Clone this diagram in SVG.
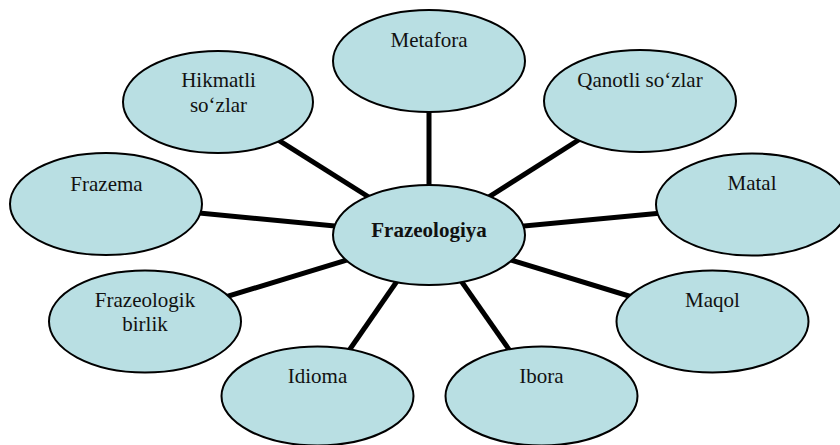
<svg xmlns="http://www.w3.org/2000/svg" width="840" height="445" viewBox="0 0 840 445">
<style>
.n{fill:#b9dfe3;stroke:#000;stroke-width:2}
.t{font-size:21px;fill:#111;text-anchor:middle}
.b{font-weight:bold}
.c line{stroke:#000;stroke-width:5}
</style>
<rect width="840" height="445" fill="#fff"/>
<g id="connectors" class="c">
<line x1="429" y1="235" x2="429" y2="61"/>
<line x1="429" y1="235" x2="640" y2="101"/>
<line x1="429" y1="235" x2="218" y2="102"/>
<line x1="429" y1="235" x2="106" y2="204"/>
<line x1="429" y1="235" x2="752" y2="204.5"/>
<line x1="429" y1="235" x2="145" y2="321.5"/>
<line x1="429" y1="235" x2="712.5" y2="321.5"/>
<line x1="429" y1="235" x2="317.5" y2="396"/>
<line x1="429" y1="235" x2="541.5" y2="396"/>
</g>
<g font-family="Liberation Serif, Tinos, Times New Roman, DejaVu Serif, serif">
<g id="metafora"><ellipse class="n" cx="429" cy="61" rx="96" ry="51"/><text class="t" x="429" y="47">Metafora</text></g>
<g id="qanotli"><ellipse class="n" cx="640" cy="101" rx="96" ry="51"/><text class="t" x="640" y="87">Qanotli so‘zlar</text></g>
<g id="hikmatli"><ellipse class="n" cx="218" cy="102" rx="95" ry="51"/><text class="t" x="218.5" y="87">Hikmatli</text><text class="t" x="218.5" y="112">so‘zlar</text></g>
<g id="frazema"><ellipse class="n" cx="106" cy="204" rx="96" ry="51"/><text class="t" x="106.5" y="191">Frazema</text></g>
<g id="matal"><ellipse class="n" cx="752" cy="204.5" rx="96" ry="51"/><text class="t" x="752" y="190">Matal</text></g>
<g id="frazeologiya"><ellipse class="n" cx="429" cy="235" rx="96" ry="50"/><text class="t b" x="429" y="237">Frazeologiya</text></g>
<g id="frazeologik"><ellipse class="n" cx="145" cy="321.5" rx="96" ry="51"/><text class="t" x="145" y="307">Frazeologik</text><text class="t" x="145" y="331">birlik</text></g>
<g id="maqol"><ellipse class="n" cx="712.5" cy="321.5" rx="96" ry="51"/><text class="t" x="712.5" y="307">Maqol</text></g>
<g id="idioma"><ellipse class="n" cx="317.5" cy="396" rx="96" ry="49.5"/><text class="t" x="317.5" y="383">Idioma</text></g>
<g id="ibora"><ellipse class="n" cx="541.5" cy="396" rx="96" ry="49.5"/><text class="t" x="541.5" y="383">Ibora</text></g>
</g>
</svg>
